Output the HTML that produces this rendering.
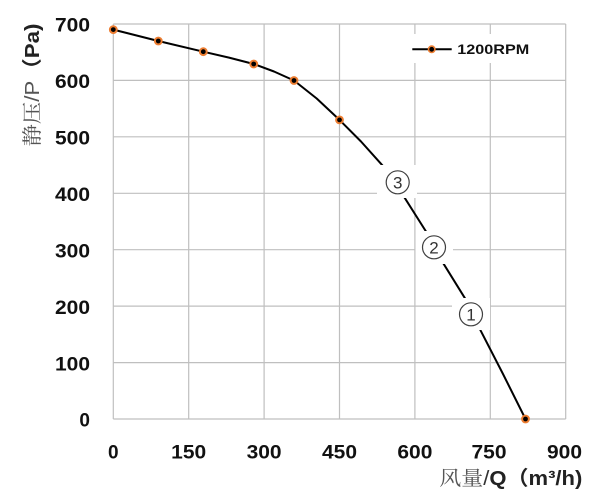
<!DOCTYPE html>
<html>
<head>
<meta charset="utf-8">
<style>
html,body{margin:0;padding:0;background:#fff;}
svg{display:block;}
</style>
</head>
<body>
<svg width="600" height="502" viewBox="0 0 600 502" xmlns="http://www.w3.org/2000/svg">
<rect x="0" y="0" width="600" height="502" fill="#fff"/>
<!-- gridlines -->
<g stroke="#BFBFBF" stroke-width="1.2" fill="none">
  <line x1="113.3" y1="24" x2="565.7" y2="24"/>
  <line x1="113.3" y1="80.4" x2="565.7" y2="80.4"/>
  <line x1="113.3" y1="136.8" x2="565.7" y2="136.8"/>
  <line x1="113.3" y1="193.3" x2="565.7" y2="193.3"/>
  <line x1="113.3" y1="249.7" x2="565.7" y2="249.7"/>
  <line x1="113.3" y1="306.1" x2="565.7" y2="306.1"/>
  <line x1="113.3" y1="362.6" x2="565.7" y2="362.6"/>
  <line x1="113.3" y1="419" x2="565.7" y2="419"/>
  <line x1="113.3" y1="24" x2="113.3" y2="419"/>
  <line x1="188.7" y1="24" x2="188.7" y2="419"/>
  <line x1="264.1" y1="24" x2="264.1" y2="419"/>
  <line x1="339.5" y1="24" x2="339.5" y2="419"/>
  <line x1="414.9" y1="24" x2="414.9" y2="419"/>
  <line x1="490.3" y1="24" x2="490.3" y2="419"/>
  <line x1="565.7" y1="24" x2="565.7" y2="419"/>
</g>
<!-- legend background -->
<rect x="404" y="34" width="140" height="29" fill="#fff"/>
<!-- curve -->
<polyline fill="none" stroke="#000" stroke-width="2" stroke-linejoin="round" stroke-linecap="round"
 points="113.3,29.6 158.3,41 203.3,51.7 229,57.6 253.7,64 274,71.5 294,80.5 316.7,98.5 339.5,119.9 361,141.5 382.7,165.7 405,198.3 425.7,231 443.3,263.3 465,298.3 480.7,330.7 503,374 525.5,419"/>
<!-- markers -->
<g fill="#000" stroke="#ED7D31" stroke-width="2">
  <circle cx="113.3" cy="29.6" r="3.4"/>
  <circle cx="158.3" cy="41" r="3.4"/>
  <circle cx="203.3" cy="51.7" r="3.4"/>
  <circle cx="253.7" cy="64" r="3.4"/>
  <circle cx="294" cy="80.5" r="3.4"/>
  <circle cx="339.5" cy="119.9" r="3.4"/>
  <circle cx="525.5" cy="419" r="3.4"/>
</g>
<!-- circled labels -->
<g>
  <rect x="377" y="165" width="40" height="33" fill="#fff"/>
  <rect x="415.5" y="231" width="37.5" height="33" fill="#fff"/>
  <rect x="452" y="298" width="38" height="32" fill="#fff"/>
  <g fill="none" stroke="#404040" stroke-width="1.2">
    <circle cx="397.7" cy="182.3" r="11.5"/>
    <circle cx="434" cy="247.3" r="11.5"/>
    <circle cx="471" cy="314.3" r="11.5"/>
  </g>
  <g font-family="'Liberation Sans', sans-serif" font-size="17" fill="#333" text-anchor="middle">
    <text x="397.7" y="188.5">3</text>
    <text x="434" y="253.5">2</text>
    <text x="471" y="320.5">1</text>
  </g>
</g>
<!-- legend -->
<line x1="412.3" y1="49.3" x2="451.7" y2="49.3" stroke="#000" stroke-width="2"/>
<circle cx="431.7" cy="49.3" r="3.2" fill="#000" stroke="#ED7D31" stroke-width="1.6"/>
<text x="457.3" y="54.2" font-family="'Liberation Sans', sans-serif" font-weight="bold" font-size="14" fill="#111" textLength="72" lengthAdjust="spacingAndGlyphs">1200RPM</text>
<!-- y tick labels -->
<g font-family="'Liberation Sans', sans-serif" font-weight="bold" font-size="19" fill="#111" text-anchor="end">
  <text x="90" y="31.7" textLength="35" lengthAdjust="spacingAndGlyphs">700</text>
  <text x="90" y="88.1" textLength="35" lengthAdjust="spacingAndGlyphs">600</text>
  <text x="90" y="144.5" textLength="35" lengthAdjust="spacingAndGlyphs">500</text>
  <text x="90" y="201" textLength="35" lengthAdjust="spacingAndGlyphs">400</text>
  <text x="90" y="257.4" textLength="35" lengthAdjust="spacingAndGlyphs">300</text>
  <text x="90" y="313.8" textLength="35" lengthAdjust="spacingAndGlyphs">200</text>
  <text x="90" y="370.3" textLength="35" lengthAdjust="spacingAndGlyphs">100</text>
  <text x="90" y="426.7">0</text>
</g>
<!-- x tick labels -->
<g font-family="'Liberation Sans', sans-serif" font-weight="bold" font-size="19" fill="#111" text-anchor="middle">
  <text x="113.3" y="458.3">0</text>
  <text x="188.7" y="458.3" textLength="35" lengthAdjust="spacingAndGlyphs">150</text>
  <text x="264.1" y="458.3" textLength="35" lengthAdjust="spacingAndGlyphs">300</text>
  <text x="339.5" y="458.3" textLength="35" lengthAdjust="spacingAndGlyphs">450</text>
  <text x="414.9" y="458.3" textLength="35" lengthAdjust="spacingAndGlyphs">600</text>
  <text x="489" y="458.3" textLength="35" lengthAdjust="spacingAndGlyphs">750</text>
  <text x="564.5" y="458.3" textLength="35" lengthAdjust="spacingAndGlyphs">900</text>
</g>
<!-- x axis title -->
<text x="439.3" y="485" font-size="20" textLength="143" lengthAdjust="spacingAndGlyphs"><tspan font-family="'Noto Serif CJK SC', serif" fill="#555">风量</tspan><tspan font-family="'Liberation Sans', 'Noto Sans CJK SC', sans-serif" fill="#333">/</tspan><tspan font-family="'Liberation Sans', 'Noto Sans CJK SC', sans-serif" font-weight="bold" fill="#222">Q（m³/h)</tspan></text>
<!-- y axis title -->
<text transform="translate(39,85) rotate(-90)" text-anchor="middle" font-size="20" textLength="123" lengthAdjust="spacingAndGlyphs"><tspan font-family="'Noto Serif CJK SC', serif" fill="#555">静压</tspan><tspan font-family="'Liberation Sans', 'Noto Sans CJK SC', sans-serif" fill="#555">/P</tspan><tspan font-family="'Liberation Sans', 'Noto Sans CJK SC', sans-serif" font-weight="bold" fill="#222">（Pa)</tspan></text>
</svg>
</body>
</html>
